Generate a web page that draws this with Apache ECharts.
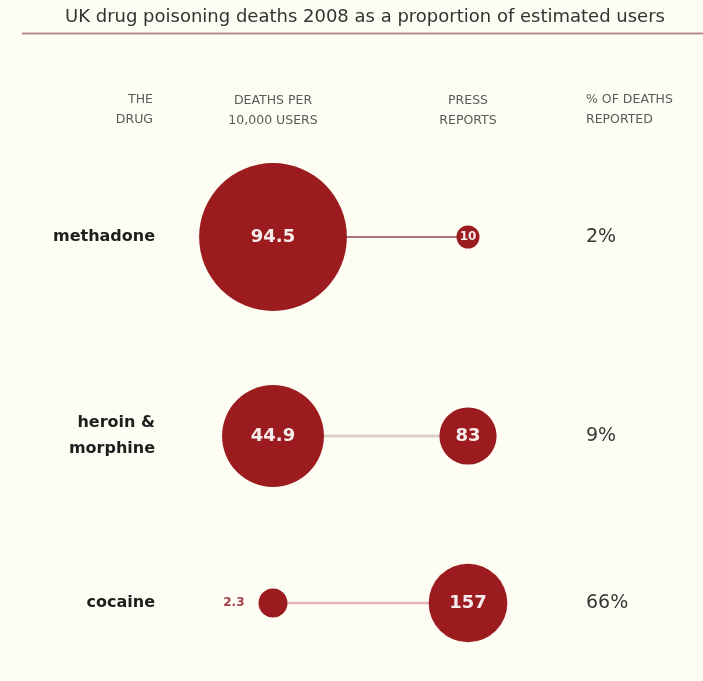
<!DOCTYPE html>
<html>
<head>
<meta charset="utf-8">
<script src="https://cdn.jsdelivr.net/npm/echarts@6/dist/echarts.min.js"></script>
<style>
  html, body { margin: 0; padding: 0; background: #fdfdf3; }
  #chart { width: 703px; height: 681px; }
</style>
</head>
<body>
<div id="chart"></div>
<script>
// UK drug poisoning deaths, 2008
const drugs = ['methadone', 'heroin &\nmorphine', 'cocaine'];
const deathsPer10k = [94.5, 44.9, 2.3];
const pressReports = [10, 83, 157];
const pctReported = ['2%', '9%', '66%'];
const columns = ['DEATHS PER\n10,000 USERS', 'PRESS\nREPORTS'];

// layout
const W = 703;
const rowCenters = [237, 436, 603];
const rowHeight = 150;
const gridLeft = 175.5, gridWidth = 390;
const RED = '#9b1b1f';
const connectorStyles = [
  { color: '#8e4a4a', width: 1.5 },
  { color: '#ddd0c8', width: 3 },
  { color: '#e8b6b6', width: 2.5 }
];

// circle area proportional to value, per column
const deathScale = 15.2, deathMin = 29;
const pressScale = 6.28, pressMin = 23;
const deathSize = v => Math.max(deathScale * Math.sqrt(v), deathMin);
const pressSize = v => Math.max(pressScale * Math.sqrt(v), pressMin);

const headerFont = { fontFamily: 'DejaVu Sans', fontSize: 12.5, lineHeight: 20, color: '#5a5a5a' };

const grid = [], xAxis = [], yAxis = [], series = [];

drugs.forEach((drug, i) => {
  grid.push({
    left: gridLeft,
    width: gridWidth,
    top: rowCenters[i] - rowHeight / 2,
    height: rowHeight
  });
  xAxis.push({
    type: 'category',
    gridIndex: i,
    data: columns,
    position: 'top',
    boundaryGap: true,
    axisLine: { show: false },
    axisTick: { show: false },
    splitLine: { show: false },
    axisLabel: Object.assign({ show: i === 0, margin: 31 }, headerFont)
  });
  // drug name on the left
  yAxis.push({
    type: 'category',
    gridIndex: i,
    data: [drug],
    position: 'left',
    axisLine: { show: false },
    axisTick: { show: false },
    splitLine: { show: false },
    axisLabel: {
      margin: 20.5,
      fontFamily: 'DejaVu Sans',
      fontWeight: 'bold',
      fontSize: 16,
      lineHeight: 26,
      color: '#1e1e1e',
      align: 'right'
    }
  });
  // share of deaths reported on the right
  yAxis.push({
    type: 'category',
    gridIndex: i,
    data: [pctReported[i]],
    position: 'right',
    axisLine: { show: false },
    axisTick: { show: false },
    splitLine: { show: false },
    axisLabel: {
      margin: 20.5,
      fontFamily: 'DejaVu Sans',
      fontSize: 19,
      color: '#383838',
      align: 'left'
    }
  });

  // connector between the two circles
  series.push({
    type: 'line',
    xAxisIndex: i,
    yAxisIndex: i * 2,
    data: [drug, drug],
    symbol: 'none',
    silent: true,
    z: 1,
    lineStyle: connectorStyles[i]
  });

  // deaths per 10,000 users
  const dSmall = deathSize(deathsPer10k[i]) <= deathMin;
  series.push({
    type: 'scatter',
    xAxisIndex: i,
    yAxisIndex: i * 2,
    z: 3,
    data: [[0, 0, deathsPer10k[i]]],
    symbolSize: v => deathSize(v[2]),
    itemStyle: { color: RED, opacity: 1 },
    label: {
      show: true,
      formatter: p => String(p.value[2]),
      position: dSmall ? 'left' : 'inside',
      distance: 14,
      fontFamily: 'DejaVu Sans',
      fontWeight: 'bold',
      fontSize: dSmall ? 12 : 18,
      color: dSmall ? '#a4404a' : '#f6ecec'
    }
  });

  // press reports
  const pSmall = pressSize(pressReports[i]) <= pressMin;
  series.push({
    type: 'scatter',
    xAxisIndex: i,
    yAxisIndex: i * 2,
    z: 3,
    data: [[1, 0, pressReports[i]]],
    symbolSize: v => pressSize(v[2]),
    itemStyle: { color: RED, opacity: 1 },
    label: {
      show: true,
      formatter: p => String(p.value[2]),
      position: 'inside',
      fontFamily: 'DejaVu Sans',
      fontWeight: 'bold',
      fontSize: pSmall ? 12 : 18,
      color: '#f6ecec'
    }
  });
});

const headerText = {
  fontFamily: headerFont.fontFamily,
  fontSize: headerFont.fontSize,
  lineHeight: headerFont.lineHeight,
  fill: headerFont.color
};

const option = {
  backgroundColor: '#fdfdf3',
  animation: false,
  grid, xAxis, yAxis, series,
  graphic: [
    {
      type: 'text',
      x: 365,
      y: 8,
      style: {
        text: 'UK drug poisoning deaths 2008 as a proportion of estimated users',
        textAlign: 'center',
        fontFamily: 'DejaVu Sans',
        fontSize: 18,
        fill: '#333333'
      }
    },
    {
      type: 'line',
      shape: { x1: 22, y1: 33.5, x2: W, y2: 33.5 },
      style: { stroke: '#b98c8c', lineWidth: 2 }
    },
    {
      type: 'text',
      x: 153,
      y: 90,
      style: Object.assign({ text: 'THE\nDRUG', textAlign: 'right' }, headerText)
    },
    {
      type: 'text',
      x: 586,
      y: 90,
      style: Object.assign({ text: '% OF DEATHS\nREPORTED', textAlign: 'left' }, headerText)
    }
  ]
};

const chart = echarts.init(document.getElementById('chart'), null, { renderer: 'canvas' });
chart.setOption(option);
</script>
</body>
</html>
